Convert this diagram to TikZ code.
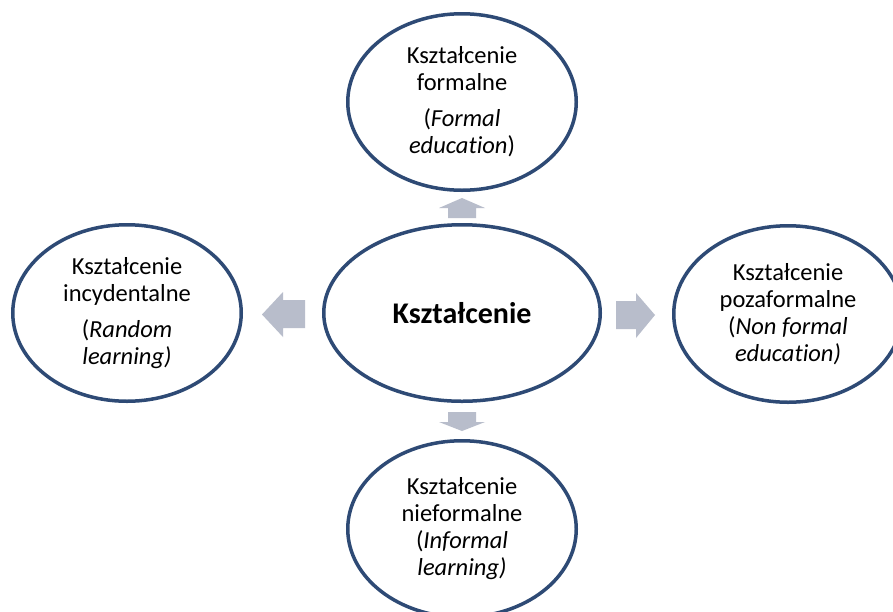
\documentclass[tikz,border=0pt]{standalone}
\usepackage{fontspec}
\setmainfont{Carlito}[Ligatures=NoCommon]
\usetikzlibrary{shapes.geometric}
\definecolor{ringblue}{HTML}{2E4A75}
\definecolor{arrowgray}{HTML}{B8BDCB}
\begin{document}
\begin{tikzpicture}[x=1pt,y=-1pt,
  ring/.style={ellipse, draw=ringblue, line width=3.5pt, fill=white, inner sep=0pt,
    minimum width=228.5pt, minimum height=176.5pt, align=center,
    font=\fontsize{24.5}{27}\selectfont},
  bigring/.style={ring, minimum width=276.5pt, font=\fontsize{30}{34}\selectfont\bfseries},
  blockarrow/.style={fill=arrowgray, draw=none}]
\useasboundingbox (0,0) rectangle (893,611);
\fill[white] (0,0) rectangle (893,611);
\clip (0,0) rectangle (893,611);
\node[ring] (top) at (462,102) {Kształcenie\\formalne\\[9pt](\textit{Formal}\\\textit{education})};
\node[bigring] (mid) at (462,313) {Kształcenie};
\node[ring] (left) at (127,313) {Kształcenie\\incydentalne\\[9pt](\textit{Random}\\\textit{learning)}};
\node[ring] (right) at (788,314) {Kształcenie\\pozaformalne\\(\textit{Non formal}\\\textit{education)}};
\node[ring] (bottom) at (462,529) {Kształcenie\\nieformalne\\(\textit{Informal}\\\textit{learning)}};
% block arrows
\fill[blockarrow] (448,218) -- (448,208) -- (439,208) -- (462,198) -- (485,208) -- (476,208) -- (476,218) -- cycle;
\fill[blockarrow] (448,412) -- (476,412) -- (476,422) -- (485,422) -- (462,431) -- (439,422) -- (448,422) -- cycle;
\fill[blockarrow] (305,300) -- (283,300) -- (283,292) -- (262,314.5) -- (283,337) -- (283,328) -- (305,328) -- cycle;
\fill[blockarrow] (616,301) -- (636,301) -- (636,293) -- (655,315) -- (636,338) -- (636,329) -- (616,329) -- cycle;
\end{tikzpicture}
\end{document}
